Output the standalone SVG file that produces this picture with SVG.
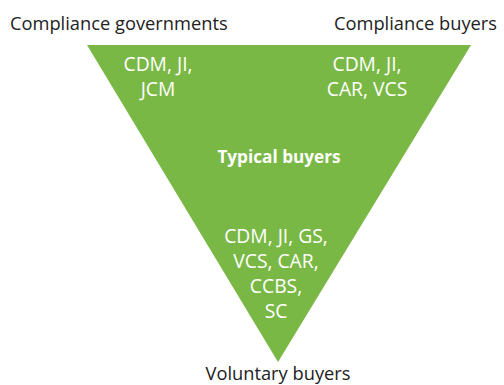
<svg xmlns="http://www.w3.org/2000/svg" width="504" height="385" viewBox="0 0 504 385">
<style>
.lbl{font-family:"Open Sans","Liberation Sans",sans-serif;font-size:18.3px;fill:#222;}
.in{font-family:"Open Sans","Liberation Sans",sans-serif;font-size:19.3px;fill:#fff;text-anchor:middle;}
.b{font-weight:bold;font-size:17.2px;}
</style>
<rect width="504" height="385" fill="#fff"/>
<g id="triangle">
<polygon points="87,45 471,45 278,362" fill="#7ab845"/>
</g>
<g id="compliance-governments">
<text class="lbl" x="10" y="30">Compliance governments</text>
<text class="in" x="158" y="71">CDM, JI,</text>
<text class="in" x="158" y="96">JCM</text>
</g>
<g id="compliance-buyers">
<text class="lbl" x="497" y="30" text-anchor="end">Compliance buyers</text>
<text class="in" x="367" y="71">CDM, JI,</text>
<text class="in" x="367" y="96">CAR, VCS</text>
</g>
<g id="typical-buyers">
<text class="in b" x="279" y="163">Typical buyers</text>
</g>
<g id="voluntary-buyers">
<text class="in" x="276" y="243">CDM, JI, GS,</text>
<text class="in" x="276" y="268">VCS, CAR,</text>
<text class="in" x="276" y="293">CCBS,</text>
<text class="in" x="276" y="318">SC</text>
<text class="lbl" x="278" y="380" text-anchor="middle">Voluntary buyers</text>
</g>
</svg>
